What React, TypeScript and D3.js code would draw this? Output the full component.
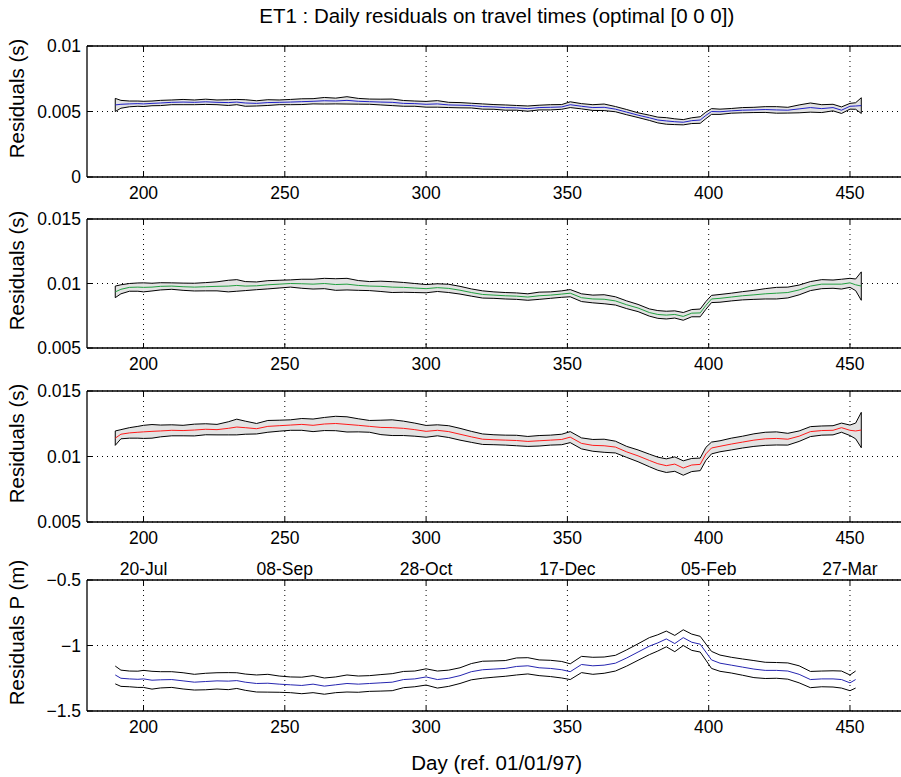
import React from "react";
import * as d3 from "d3";

// ---- data ----
const days = [
  190, 192, 195, 198, 200, 203, 206, 210, 214, 218, 222, 226, 230, 233, 236,
  240, 244, 248, 252, 256, 260, 264, 268, 272, 276, 280, 284, 288, 292, 296,
  300, 304, 308, 312, 316, 320, 324, 328, 332, 336, 340, 344, 348, 351, 355,
  359, 363, 367, 371, 375, 379, 382, 385, 388, 391, 394, 397, 399, 401, 404,
  408, 412, 416, 420, 424, 428, 432, 436, 440, 444, 447, 450, 452, 454,
];

// panel 1 (units 1e-3 s)
const mean1 = [
  5.5, 5.55, 5.58, 5.6, 5.58, 5.62, 5.65, 5.7, 5.72, 5.7, 5.74, 5.7, 5.68, 5.72, 5.65,
  5.62, 5.68, 5.7, 5.72, 5.75, 5.78, 5.82, 5.8, 5.85, 5.78, 5.75, 5.72, 5.7, 5.62, 5.6,
  5.55, 5.58, 5.5, 5.48, 5.45, 5.38, 5.35, 5.3, 5.28, 5.22, 5.3, 5.32, 5.35, 5.52, 5.4,
  5.3, 5.32, 5.18, 4.95, 4.72, 4.52, 4.35, 4.28, 4.22, 4.18, 4.3, 4.35, 4.7, 5.0, 4.98,
  5.05, 5.1, 5.12, 5.15, 5.12, 5.1, 5.2, 5.3, 5.22, 5.3, 5.1, 5.4, 5.42, 5.45,
];
const half1 = [
  0.5, 0.3, 0.22, 0.2, 0.2, 0.18, 0.2, 0.18, 0.2, 0.18, 0.2, 0.18, 0.22, 0.2, 0.25,
  0.2, 0.22, 0.18, 0.2, 0.22, 0.2, 0.25, 0.22, 0.28, 0.22, 0.2, 0.22, 0.25, 0.22, 0.2,
  0.22, 0.25, 0.2, 0.2, 0.18, 0.2, 0.18, 0.2, 0.18, 0.2, 0.18, 0.2, 0.18, 0.22, 0.2,
  0.22, 0.25, 0.2, 0.2, 0.18, 0.2, 0.22, 0.25, 0.22, 0.2, 0.22, 0.25, 0.25, 0.22, 0.2,
  0.18, 0.2, 0.2, 0.22, 0.25, 0.22, 0.3, 0.35, 0.3, 0.25, 0.25, 0.22, 0.25, 0.6,
];

// panel 2 (units 1e-3 s)
const mean2 = [
  9.35, 9.55, 9.7, 9.72, 9.7, 9.72, 9.78, 9.8, 9.75, 9.72, 9.75, 9.78, 9.8, 9.85, 9.8,
  9.82, 9.9, 9.95, 10.0, 9.98, 9.95, 10.0, 9.92, 9.95, 9.85, 9.8, 9.78, 9.72, 9.7, 9.65,
  9.6, 9.68, 9.62, 9.48, 9.3, 9.15, 9.1, 9.05, 9.02, 8.95, 9.05, 9.1, 9.18, 9.25, 8.9,
  8.8, 8.78, 8.65, 8.35, 8.1, 7.75, 7.6, 7.55, 7.6, 7.45, 7.7, 7.72, 8.3, 8.8, 8.85,
  8.95, 9.05, 9.12, 9.2, 9.25, 9.3, 9.5, 9.8, 9.95, 9.95, 9.95, 10.05, 9.9, 9.8,
];
const half2 = [
  0.45, 0.35, 0.3, 0.32, 0.35, 0.3, 0.28, 0.25, 0.28, 0.3, 0.32, 0.35, 0.45, 0.45, 0.35,
  0.3, 0.32, 0.3, 0.28, 0.35, 0.38, 0.4, 0.45, 0.45, 0.38, 0.35, 0.4, 0.42, 0.38, 0.35,
  0.32, 0.3, 0.32, 0.3, 0.28, 0.28, 0.25, 0.25, 0.25, 0.25, 0.28, 0.25, 0.25, 0.28, 0.3,
  0.3, 0.35, 0.32, 0.3, 0.28, 0.28, 0.3, 0.3, 0.28, 0.3, 0.28, 0.3, 0.3, 0.28, 0.3,
  0.3, 0.32, 0.35, 0.4, 0.45, 0.42, 0.38, 0.35, 0.35, 0.32, 0.38, 0.35, 0.45, 1.1,
];

// panel 3 (units 1e-3 s)
const mean3 = [
  11.4, 11.7, 11.8, 11.85, 11.88, 11.92, 11.95, 12.0, 11.98, 12.02, 12.08, 12.05, 12.15, 12.25, 12.2,
  12.12, 12.3, 12.35, 12.4, 12.45, 12.38, 12.48, 12.52, 12.45, 12.38, 12.3, 12.22, 12.2, 12.15, 12.05,
  11.92, 12.0, 11.9, 11.7, 11.5, 11.32, 11.28, 11.25, 11.22, 11.15, 11.2, 11.25, 11.3, 11.48, 11.0,
  10.85, 10.82, 10.72, 10.35, 10.05, 9.7, 9.45, 9.3, 9.42, 9.12, 9.35, 9.4, 10.2, 10.65, 10.78,
  10.95, 11.1, 11.25, 11.35, 11.38, 11.32, 11.55, 11.9, 11.98, 12.0, 12.2, 12.0, 11.95, 12.02,
];
const half3 = [
  0.55, 0.35, 0.4, 0.45, 0.5, 0.52, 0.45, 0.42, 0.4, 0.45, 0.42, 0.4, 0.5, 0.6, 0.5,
  0.4, 0.45, 0.42, 0.4, 0.45, 0.48, 0.5, 0.55, 0.58, 0.5, 0.45, 0.55, 0.6, 0.55, 0.5,
  0.45, 0.42, 0.45, 0.45, 0.42, 0.4, 0.38, 0.38, 0.4, 0.38, 0.4, 0.38, 0.4, 0.42, 0.42,
  0.45, 0.5, 0.45, 0.42, 0.45, 0.48, 0.5, 0.52, 0.55, 0.55, 0.5, 0.48, 0.5, 0.45, 0.42,
  0.45, 0.45, 0.48, 0.5, 0.5, 0.45, 0.4, 0.38, 0.35, 0.35, 0.35, 0.4, 0.6, 1.35,
];

// panel 4 (m)
const mean4 = [
  -1.225, -1.25, -1.255, -1.258, -1.255, -1.265, -1.262, -1.26, -1.27, -1.28, -1.275, -1.27, -1.272, -1.268, -1.28,
  -1.29, -1.288, -1.295, -1.3, -1.305, -1.295, -1.31, -1.3, -1.29, -1.295, -1.29, -1.285, -1.28, -1.26, -1.255,
  -1.24, -1.26, -1.25, -1.23, -1.2, -1.185, -1.18, -1.175, -1.16, -1.155, -1.17, -1.175, -1.185, -1.2, -1.145,
  -1.155, -1.15, -1.135, -1.095, -1.05, -1.005, -0.98, -0.95, -0.985, -0.94, -0.975, -0.99, -1.05, -1.11, -1.135,
  -1.15, -1.165, -1.18, -1.19, -1.19, -1.195, -1.22, -1.26, -1.255, -1.255, -1.26, -1.285, -1.26,
];
const half4 = [
  0.068, 0.062, 0.06, 0.062, 0.065, 0.068, 0.062, 0.06, 0.062, 0.06, 0.063, 0.062, 0.065, 0.06, 0.062,
  0.065, 0.068, 0.062, 0.06, 0.063, 0.065, 0.062, 0.06, 0.065, 0.062, 0.06, 0.063, 0.065, 0.062, 0.06,
  0.062, 0.065, 0.062, 0.06, 0.062, 0.065, 0.062, 0.06, 0.065, 0.062, 0.06, 0.062, 0.063, 0.06, 0.062,
  0.065, 0.062, 0.06, 0.062, 0.063, 0.065, 0.062, 0.06, 0.062, 0.06, 0.062, 0.06, 0.062, 0.065, 0.062,
  0.06, 0.062, 0.065, 0.062, 0.06, 0.062, 0.065, 0.062, 0.06, 0.062, 0.065, 0.06, 0.065,
];

const xTicks = [200, 250, 300, 350, 400, 450];
const xTickLabels = ["200", "250", "300", "350", "400", "450"];
const dateLabels = ["20-Jul", "08-Sep", "28-Oct", "17-Dec", "05-Feb", "27-Mar"];

const yTicksS1 = [0, 0.005, 0.01];
const yTickLabelsS1 = ["0", "0.005", "0.01"];
const yTicksS2 = [0.005, 0.01, 0.015];
const yTickLabelsS2 = ["0.005", "0.01", "0.015"];
const yTicksP = [-1.5, -1, -0.5];
const yTickLabelsP = ["\u22121.5", "\u22121", "\u22120.5"];

const title = "ET1 : Daily residuals on travel times (optimal [0 0 0])";
const xLabel = "Day (ref. 01/01/97)";

// ---- layout ----
const W = 901;
const H = 777;
const FONT = "'Liberation Sans', Arial, Helvetica, sans-serif";
const x = d3.scaleLinear().domain([180, 470]).range([87, 906.5]);

type Pt = { day: number; m: number; lo: number; hi: number };

function build(mean: number[], half: number[], k: number): Pt[] {
  return mean.map((m, i) => ({
    day: days[i],
    m: m * k,
    lo: (m - half[i]) * k,
    hi: (m + half[i]) * k,
  }));
}

const panels = [
  { top: 46, bottom: 177, dom: [0, 0.01], ticks: yTicksS1, labels: yTickLabelsS1, ylabel: "Residuals (s)", color: "#2020c8", band: true, data: build(mean1, half1, 1e-3) },
  { top: 219, bottom: 348, dom: [0.005, 0.015], ticks: yTicksS2, labels: yTickLabelsS2, ylabel: "Residuals (s)", color: "#22a040", band: true, data: build(mean2, half2, 1e-3) },
  { top: 391, bottom: 522, dom: [0.005, 0.015], ticks: yTicksS2, labels: yTickLabelsS2, ylabel: "Residuals (s)", color: "#ff1a1a", band: true, data: build(mean3, half3, 1e-3) },
  { top: 580, bottom: 711, dom: [-1.5, -0.5], ticks: yTicksP, labels: yTickLabelsP, ylabel: "Residuals P (m)", color: "#2525b0", band: false, data: build(mean4, half4, 1) },
];

function Panel({ p, last }: { p: (typeof panels)[number]; last: boolean }) {
  const y = d3.scaleLinear().domain(p.dom).range([p.bottom, p.top]);
  const [x0, x1] = x.range();
  const area = d3.area<Pt>().x((d) => x(d.day)).y0((d) => y(d.lo)).y1((d) => y(d.hi));
  const line = (acc: (d: Pt) => number) => d3.line<Pt>().x((d) => x(d.day)).y((d) => y(acc(d)))(p.data) || "";
  const tl = 5;
  return (
    <g>
      {/* grid */}
      {xTicks.map((t) => (
        <line key={"gx" + t} x1={x(t)} x2={x(t)} y1={p.top} y2={p.bottom} stroke="#000" strokeWidth={1} strokeDasharray="1,4" />
      ))}
      {p.ticks.map((t) => (
        <line key={"gy" + t} x1={x0} x2={x1} y1={y(t)} y2={y(t)} stroke="#000" strokeWidth={1} strokeDasharray="1,4" />
      ))}
      {/* data */}
      {p.band ? (
        <path d={area(p.data) || ""} fill="#e3e3e3" stroke="#000" strokeWidth={1} />
      ) : (
        <>
          <path d={line((d) => d.hi)} fill="none" stroke="#000" strokeWidth={1} />
          <path d={line((d) => d.lo)} fill="none" stroke="#000" strokeWidth={1} />
        </>
      )}
      <path d={line((d) => d.m)} fill="none" stroke={p.color} strokeWidth={1} />
      {/* axes box */}
      <line x1={x0} x2={x1} y1={p.top} y2={p.top} stroke="#000" strokeWidth={1.3} />
      <line x1={x0} x2={x1} y1={p.bottom} y2={p.bottom} stroke="#000" strokeWidth={1.3} />
      <line x1={x0} x2={x0} y1={p.top} y2={p.bottom} stroke="#000" strokeWidth={1.3} />
      <line x1={x1} x2={x1} y1={p.top} y2={p.bottom} stroke="#000" strokeWidth={1.3} />
      {xTicks.map((t) => (
        <g key={"tx" + t}>
          <line x1={x(t)} x2={x(t)} y1={p.bottom} y2={p.bottom - tl} stroke="#000" strokeWidth={1} />
          <line x1={x(t)} x2={x(t)} y1={p.top} y2={p.top + tl} stroke="#000" strokeWidth={1} />
        </g>
      ))}
      {p.ticks.map((t) => (
        <line key={"ty" + t} x1={x0} x2={x0 + tl} y1={y(t)} y2={y(t)} stroke="#000" strokeWidth={1} />
      ))}
      {/* tick labels */}
      {xTicks.map((t, i) => (
        <text key={"lx" + t} x={x(t)} y={p.bottom + 22} textAnchor="middle" fontSize={17.5} fontFamily={FONT}>
          {xTickLabels[i]}
        </text>
      ))}
      {last &&
        xTicks.map((t, i) => (
          <text key={"ld" + t} x={x(t)} y={p.top - 5} textAnchor="middle" fontSize={17.5} fontFamily={FONT}>
            {dateLabels[i]}
          </text>
        ))}
      {p.ticks.map((t, i) => (
        <text key={"ly" + t} x={81} y={y(t)} dy="0.36em" textAnchor="end" fontSize={17.5} fontFamily={FONT}>
          {p.labels[i]}
        </text>
      ))}
      <text
        transform={`translate(24,${(p.top + p.bottom) / 2 - 13}) rotate(-90)`}
        textAnchor="middle"
        fontSize={20.5}
        fontFamily={FONT}
      >
        {p.ylabel}
      </text>
    </g>
  );
}

export default function App() {
  const cx = (x.range()[0] + x.range()[1]) / 2;
  return (
    <svg
      width={W}
      height={H}
      viewBox={`0 0 ${W} ${H}`}
      style={{ position: "absolute", left: 0, top: 0, background: "#fff", display: "block" }}
    >
      <rect x={0} y={0} width={W} height={H} fill="#fff" />
      <text x={cx} y={23} textAnchor="middle" fontSize={20.5} fontFamily={FONT}>
        {title}
      </text>
      {panels.map((p, i) => (
        <Panel key={i} p={p} last={i === panels.length - 1} />
      ))}
      <text x={cx} y={770} textAnchor="middle" fontSize={20.5} fontFamily={FONT}>
        {xLabel}
      </text>
    </svg>
  );
}
